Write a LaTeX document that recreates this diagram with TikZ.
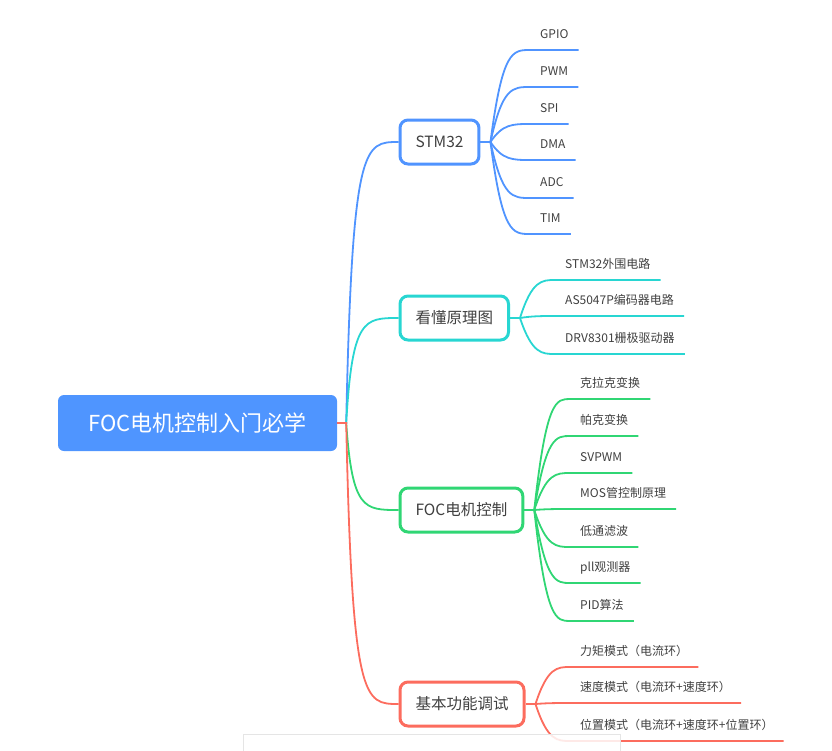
\documentclass[tikz,border=0pt]{standalone}
\usepackage{fontspec}
\setmainfont{Noto Sans CJK SC}
\usetikzlibrary{positioning, calc}
\definecolor{RootBlue}{RGB}{79,149,255}
\definecolor{StmBlue}{RGB}{80,148,255}
\definecolor{SchCyan}{RGB}{40,214,210}
\definecolor{FocGreen}{RGB}{48,214,116}
\definecolor{TestRed}{RGB}{252,108,94}
\definecolor{TextGray}{RGB}{64,64,64}

\tikzset{
  root/.style={fill=RootBlue, rounded corners=6pt, text=white, font=\fontsize{22}{24}\selectfont, minimum width=279pt, minimum height=56pt, inner sep=0pt},
  topic/.style={draw=#1, fill=white, line width=3pt, rounded corners=8pt, text=TextGray, font=\fontsize{15.5}{18}\selectfont, minimum height=44pt, inner xsep=15.5pt, inner ysep=0pt},
  leaf/.style={anchor=south west, text=TextGray, font=\fontsize{12}{14}\selectfont, inner xsep=10pt, inner ysep=8pt, text height=9pt, text depth=3pt},
  link/.style={draw=#1, line width=1.8pt},
}

\begin{document}
\begin{tikzpicture}[x=1pt, y=-1pt]
    \useasboundingbox (0,0) rectangle (832,750);

    % Central topic
    \node[root] (foc) at (197.5,423) {FOC电机控制入门必学};
    \coordinate (rootfork) at ($(foc.east)+(9,0)$);

    % Main topics
    \node[topic=StmBlue, anchor=west] (stm) at (398.5,142) {STM32};
    \node[topic=SchCyan, anchor=west] (sch) at (398.5,318) {看懂原理图};
    \node[topic=FocGreen, anchor=west] (ctl) at (398.5,510) {FOC电机控制};
    \node[topic=TestRed, anchor=west] (dbg) at (398.5,704) {基本功能调试};

    % Central links
    \draw[link=StmBlue] (foc.east) -- (rootfork) .. controls ($(rootfork |- stm.west)+(6,0)$) and ($(rootfork |- stm.west)+(18,0)$) .. (stm.west);
    \draw[link=SchCyan] (foc.east) -- (rootfork) .. controls ($(rootfork |- sch.west)+(6,0)$) and ($(rootfork |- sch.west)+(18,0)$) .. (sch.west);
    \draw[link=FocGreen] (foc.east) -- (rootfork) .. controls ($(rootfork |- ctl.west)+(6,0)$) and ($(rootfork |- ctl.west)+(18,0)$) .. (ctl.west);
    \draw[link=TestRed] (foc.east) -- (rootfork) .. controls ($(rootfork |- dbg.west)+(6,0)$) and ($(rootfork |- dbg.west)+(18,0)$) .. (dbg.west);

    % STM32
    \node[leaf] (gpio) at (530,50) {GPIO};
    \node[leaf] (pwm) at (530,87) {PWM};
    \node[leaf] (spi) at (530,124) {SPI};
    \node[leaf] (dma) at (530,160) {DMA};
    \node[leaf] (adc) at (530,198) {ADC};
    \node[leaf] (tim) at (530,234) {TIM};
    \coordinate (stmfork) at ($(stm.east)+(10,0)$);
    \draw[link=StmBlue] (stm.east) -- (stmfork);
    \foreach \l in {gpio,pwm,spi,dma,adc,tim}
      \draw[link=StmBlue] (stmfork) .. controls ($(stmfork |- \l.south west)+(12,0)$) and ($(stmfork |- \l.south west)+(22,0)$) .. (\l.south west) -- (\l.south east);

    % Schematics
    \node[leaf] (perip) at (555,280) {STM32外围电路};
    \node[leaf] (enc) at (555,316) {AS5047P编码器电路};
    \node[leaf] (drv) at (555,354) {DRV8301栅极驱动器};
    \coordinate (schfork) at ($(sch.east)+(10,0)$);
    \draw[link=SchCyan] (sch.east) -- (schfork);
    \foreach \l in {perip,enc,drv}
      \draw[link=SchCyan] (schfork) .. controls ($(schfork |- \l.south west)+(12,0)$) and ($(schfork |- \l.south west)+(22,0)$) .. (\l.south west) -- (\l.south east);

    % FOC control
    \node[leaf] (clarke) at (570,399) {克拉克变换};
    \node[leaf] (park) at (570,436) {帕克变换};
    \node[leaf] (svpwm) at (570,473) {SVPWM};
    \node[leaf] (mos) at (570,509) {MOS管控制原理};
    \node[leaf] (lpf) at (570,547) {低通滤波};
    \node[leaf] (pll) at (570,583) {pll观测器};
    \node[leaf] (pid) at (570,621) {PID算法};
    \coordinate (ctlfork) at ($(ctl.east)+(10,0)$);
    \draw[link=FocGreen] (ctl.east) -- (ctlfork);
    \foreach \l in {clarke,park,svpwm,mos,lpf,pll,pid}
      \draw[link=FocGreen] (ctlfork) .. controls ($(ctlfork |- \l.south west)+(12,0)$) and ($(ctlfork |- \l.south west)+(22,0)$) .. (\l.south west) -- (\l.south east);

    % Basic tuning
    \node[leaf] (torque) at (570,667) {力矩模式（电流环）};
    \node[leaf] (speed) at (570,703) {速度模式（电流环+速度环）};
    \node[leaf] (posn) at (570,741) {位置模式（电流环+速度环+位置环）};
    \coordinate (dbgfork) at ($(dbg.east)+(10,0)$);
    \draw[link=TestRed] (dbg.east) -- (dbgfork);
    \foreach \l in {torque,speed,posn}
      \draw[link=TestRed] (dbgfork) .. controls ($(dbgfork |- \l.south west)+(12,0)$) and ($(dbgfork |- \l.south west)+(22,0)$) .. (\l.south west) -- (\l.south east);

    % Panel over the bottom edge
    \fill[white, opacity=0.85] (243,734) rectangle (620,752);
    \draw[gray!20] (243,752) -- (243,734) -- (620,734) -- (620,752);
\end{tikzpicture}
\end{document}
